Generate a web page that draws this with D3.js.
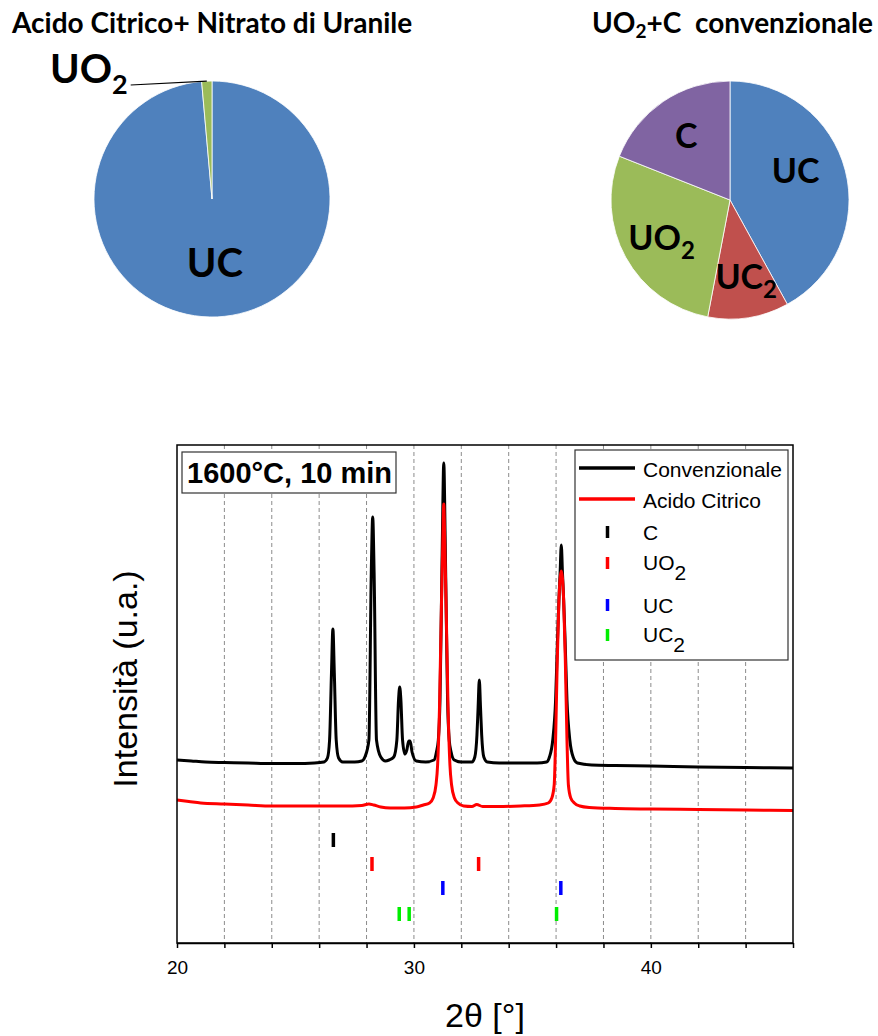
<!DOCTYPE html>
<html>
<head>
<meta charset="utf-8">
<script src="https://cdn.jsdelivr.net/npm/d3@7"></script>
<style>
  body { margin: 0; background: #fff; }
  .pie-text { font-family: Lato, "Open Sans", sans-serif; font-weight: 700; fill: #000; }
  .xrd-text { font-family: "Liberation Sans", Arial, sans-serif; fill: #000; }
</style>
</head>
<body>
<div id="chart"></div>
<script>
// Pie charts: phase fractions (%)
var leftPhases = ["UC", "UO2"],
    leftValues = [98.6, 1.4],
    rightPhases = ["UC", "UC2", "UO2", "C"],
    rightValues = [42, 11, 28, 19];

// XRD pattern, Convenzionale (2theta, intensity a.u.)
var convTheta = [20.0, 20.6, 21.2, 22.0, 23.0, 24.0, 25.0, 25.8, 26.2, 26.35, 26.44, 26.52, 26.58, 26.64, 26.72, 26.82,
    27.0, 27.5, 27.8, 27.93, 28.1, 28.2, 28.26, 28.32, 28.42, 28.6, 28.8, 28.95, 29.15, 29.28, 29.35, 29.4, 29.45,
    29.52, 29.62, 29.7, 29.78, 29.84, 29.92, 30.1, 30.5, 30.85, 30.95, 31.03, 31.1, 31.16, 31.2, 31.26, 31.32, 31.36,
    31.42, 31.49, 31.57, 31.7, 32.0, 32.45, 32.57, 32.66, 32.71, 32.76, 32.81, 32.86, 32.95, 33.1, 33.6, 34.5, 35.2,
    35.6, 35.72, 35.86, 35.98, 36.06, 36.12, 36.17, 36.22, 36.27, 36.32, 36.38, 36.46, 36.58, 36.72, 36.9, 37.5,
    38.5, 40.0, 42.0, 44.0, 46.0],
    convInt = [366, 364, 362, 361, 360, 359, 359, 360, 362, 370, 406, 540, 628, 540, 406, 370,
    362, 362, 364, 372, 406, 740, 852, 740, 406, 372, 364, 366, 372, 406, 486, 512, 486,
    406, 378, 386, 404, 404, 382, 364, 362, 366, 382, 406, 486, 672, 806, 960, 806, 672,
    486, 406, 382, 366, 362, 362, 372, 416, 472, 526, 472, 416, 372, 362, 360, 360, 360,
    362, 372, 406, 486, 606, 686, 740, 796, 740, 686, 606, 486, 406, 372, 360, 356,
    355, 354, 352, 351, 350];

// XRD pattern, Acido Citrico
var acidTheta = [20.0, 20.5, 21.0, 22.0, 23.0, 24.0, 25.0, 26.0, 27.0, 27.8, 28.1, 28.3, 28.6, 29.0, 29.6, 30.1,
    30.4, 30.66, 30.81, 30.93, 31.0, 31.08, 31.16, 31.22, 31.26, 31.3, 31.36, 31.44, 31.52, 31.59, 31.71, 31.86,
    32.1, 32.45, 32.65, 32.9, 33.5, 34.5, 35.3, 35.67, 35.82, 35.92, 35.98, 36.05, 36.12, 36.22, 36.32, 36.39,
    36.46, 36.52, 36.62, 36.77, 37.0, 37.4, 38.5, 40.0, 42.0, 44.0, 46.0],
    acidInt = [286, 283, 280, 278, 276, 274, 274, 274, 274, 275, 278, 276, 272, 270, 270, 272,
    276, 280, 290, 316, 356, 472, 672, 806, 878, 806, 672, 472, 356, 316, 290, 280,
    274, 273, 277, 273, 273, 274, 276, 280, 290, 316, 406, 566, 686, 744, 686, 566,
    406, 316, 290, 280, 274, 271, 269, 268, 267, 266, 265];

// Reference reflections
var refPhases = ["C", "UO2", "UC", "UC2"],
    refPositions = [[26.6], [28.23, 32.73], [31.22, 36.2], [29.38, 29.8, 36.02]],
    refLevels = [206, 158, 110, 58];

var xTickLabels = [20, 30, 40];

var phaseColors = { UC: "#4F81BD", UC2: "#C0504D", UO2: "#9BBB59", C: "#8064A2" },
    refColors = { C: "#000000", UO2: "#ff0000", UC: "#0000ff", UC2: "#00ee00" };

var W = 878, H = 1036;

var svg = d3.select("#chart").append("svg")
    .attr("width", W)
    .attr("height", H)
    .attr("viewBox", "0 0 " + W + " " + H);

// write "UO2" style labels with a subscript 2
function phaseText(sel, name, subSize, subShift) {
    var base = name.replace(/2$/, "");
    sel.append("tspan").text(base);
    if (base !== name) {
        sel.append("tspan")
            .attr("font-size", subSize)
            .attr("dy", subShift)
            .text("2");
    }
}

// ---------- Pie charts ----------
var pie = d3.pie().sort(null).value(function (d) { return d.v; });

function drawPie(phases, values, cx, cy, r, labelR, fontSize) {
    var g = svg.append("g").attr("transform", "translate(" + cx + "," + cy + ")");
    var data = pie(phases.map(function (p, i) { return { p: p, v: values[i] }; }));
    var arc = d3.arc().innerRadius(0).outerRadius(r);
    var labelArc = d3.arc().innerRadius(labelR).outerRadius(labelR);

    g.selectAll("path")
        .data(data)
        .enter()
        .append("path")
        .attr("d", arc)
        .style("fill", function (d) { return phaseColors[d.data.p]; })
        .style("stroke", "#fff")
        .style("stroke-width", 0.8);

    return { g: g, data: data, arc: arc, labelArc: labelArc, fontSize: fontSize };
}

// left pie
var pl = drawPie(leftPhases, leftValues, 212, 199, 118, 64, 40);
pl.data.forEach(function (d) {
    if (d.data.p === "UC") {
        var c = pl.labelArc.centroid(d);
        var t = pl.g.append("text").attr("class", "pie-text")
            .attr("x", c[0]).attr("y", c[1] + 0.36 * pl.fontSize)
            .attr("text-anchor", "middle")
            .attr("font-size", pl.fontSize);
        phaseText(t, d.data.p, 27, 11);
    } else {
        // outside label with leader line
        var t2 = pl.g.append("text").attr("class", "pie-text")
            .attr("x", -162).attr("y", -116)
            .attr("font-size", pl.fontSize);
        phaseText(t2, d.data.p, 27, 11);
        var bb = t2.node().getBBox();
        var mid = (d.startAngle + d.endAngle) / 2;
        pl.g.append("line")
            .attr("x1", bb.x + bb.width + 3).attr("y1", -114)
            .attr("x2", 118 * Math.sin(mid)).attr("y2", -118 * Math.cos(mid))
            .style("stroke", "#000").style("stroke-width", 1.2);
    }
});

// right pie
var pr = drawPie(rightPhases, rightValues, 730, 200, 119, 78, 34);
pr.data.forEach(function (d) {
    var c = pr.labelArc.centroid(d);
    // nudge UC label a little up/left like the original "best fit" placement
    var dx = d.data.p === "UC" ? -10 : (d.data.p === "UC2" ? 4 : 0),
        dy = d.data.p === "UC" ? -10 : 0;
    var t = pr.g.append("text").attr("class", "pie-text")
        .attr("x", c[0] + dx).attr("y", c[1] + dy + 0.36 * pr.fontSize)
        .attr("text-anchor", "middle")
        .attr("font-size", pr.fontSize);
    phaseText(t, d.data.p, 24, 9);
});

// titles
svg.append("text").attr("class", "pie-text")
    .attr("x", 12).attr("y", 33)
    .attr("font-size", 28)
    .text("Acido Citrico+ Nitrato di Uranile");

var t2 = svg.append("text").attr("class", "pie-text")
    .attr("x", 592).attr("y", 33)
    .attr("font-size", 28);
t2.append("tspan").text("UO");
t2.append("tspan").attr("font-size", 19).attr("dy", 5).text("2");
t2.append("tspan").attr("dy", -5).text("+C");
t2.append("tspan").attr("x", 695).text("convenzionale");

// ---------- XRD plot ----------
var plotLeft = 177, plotRight = 793, plotTop = 445, plotBottom = 943;

var x = d3.scaleLinear().domain([20, 46]).range([plotLeft, plotRight]);
var y = d3.scaleLinear().domain([0, 996]).range([plotBottom, plotTop]);

var plot = svg.append("g");

// dashed vertical grid
plot.selectAll("line.grid")
    .data(d3.range(22, 46, 2))
    .enter()
    .append("line")
    .attr("class", "grid")
    .attr("x1", function (d) { return x(d); })
    .attr("x2", function (d) { return x(d); })
    .attr("y1", plotTop)
    .attr("y2", plotBottom)
    .style("stroke", "#8c8c8c")
    .style("stroke-width", 1)
    .style("stroke-dasharray", "4,3");

// reference reflections
refPhases.forEach(function (p, i) {
    plot.selectAll("line.ref-" + p)
        .data(refPositions[i])
        .enter()
        .append("line")
        .attr("class", "ref-" + p)
        .attr("x1", function (d) { return x(d); })
        .attr("x2", function (d) { return x(d); })
        .attr("y1", y(refLevels[i]) - 7)
        .attr("y2", y(refLevels[i]) + 7)
        .style("stroke", refColors[p])
        .style("stroke-width", 3.5);
});

var line = d3.line()
    .x(function (d) { return x(d[0]); })
    .y(function (d) { return y(d[1]); })
    .curve(d3.curveMonotoneX);

plot.append("path")
    .datum(d3.zip(convTheta, convInt))
    .attr("d", line)
    .style("fill", "none")
    .style("stroke", "#000")
    .style("stroke-width", 3)
    .style("stroke-linejoin", "round");

plot.append("path")
    .datum(d3.zip(acidTheta, acidInt))
    .attr("d", line)
    .style("fill", "none")
    .style("stroke", "#ff0000")
    .style("stroke-width", 3)
    .style("stroke-linejoin", "round");

// frame
plot.append("rect")
    .attr("x", plotLeft).attr("y", plotTop)
    .attr("width", plotRight - plotLeft).attr("height", plotBottom - plotTop)
    .style("fill", "none")
    .style("stroke", "#000")
    .style("stroke-width", 1.5);

// bottom axis
var xAxis = d3.axisBottom(x)
    .tickValues(d3.range(20, 47, 2))
    .tickSize(5)
    .tickSizeOuter(0)
    .tickPadding(13)
    .tickFormat(function (d) { return xTickLabels.indexOf(d) >= 0 ? d : ""; });

var axisG = plot.append("g")
    .attr("transform", "translate(0," + plotBottom + ")")
    .call(xAxis)
    .attr("font-size", 19)
    .attr("font-family", "'Liberation Sans', Arial, sans-serif");
axisG.select(".domain").style("stroke-width", 1.5);
axisG.selectAll(".tick line").style("stroke-width", 1.5);
axisG.selectAll(".tick text").style("fill", "#000");

// axis titles
svg.append("text").attr("class", "xrd-text")
    .attr("x", 485).attr("y", 1027)
    .attr("text-anchor", "middle")
    .attr("font-size", 34)
    .text("2\u03b8 [\u00b0]");

svg.append("text").attr("class", "xrd-text")
    .attr("transform", "translate(137,679) rotate(-90)")
    .attr("text-anchor", "middle")
    .attr("font-size", 34)
    .text("Intensit\u00e0 (u.a.)");

// annotation box
svg.append("rect")
    .attr("x", 182).attr("y", 452).attr("width", 214).attr("height", 41)
    .style("fill", "#fff").style("stroke", "#333").style("stroke-width", 1.2);
svg.append("text").attr("class", "xrd-text")
    .attr("x", 187).attr("y", 483)
    .attr("font-size", 29).attr("font-weight", 700)
    .text("1600\u00b0C, 10 min");

// legend
var legend = svg.append("g");
legend.append("rect")
    .attr("x", 575).attr("y", 450).attr("width", 213).attr("height", 210)
    .style("fill", "#fff").style("stroke", "#333").style("stroke-width", 1.2);

var legendSeries = [
    { name: "Convenzionale", color: "#000", ly: 468, ty: 477 },
    { name: "Acido Citrico", color: "#ff0000", ly: 499, ty: 508 }
];
legendSeries.forEach(function (s) {
    legend.append("line")
        .attr("x1", 579).attr("x2", 635)
        .attr("y1", s.ly).attr("y2", s.ly)
        .style("stroke", s.color).style("stroke-width", 3.5);
    legend.append("text").attr("class", "xrd-text")
        .attr("x", 643).attr("y", s.ty)
        .attr("font-size", 21)
        .text(s.name);
});

var legendRefY = [532, 563, 605, 635],
    legendRefText = [540, 570, 613, 642];
refPhases.forEach(function (p, i) {
    legend.append("line")
        .attr("x1", 607.5).attr("x2", 607.5)
        .attr("y1", legendRefY[i] - 6).attr("y2", legendRefY[i] + 6)
        .style("stroke", refColors[p]).style("stroke-width", 3.5);
    var t = legend.append("text").attr("class", "xrd-text")
        .attr("x", 643).attr("y", legendRefText[i])
        .attr("font-size", 21);
    phaseText(t, p, 21, 10);
});
</script>
</body>
</html>
